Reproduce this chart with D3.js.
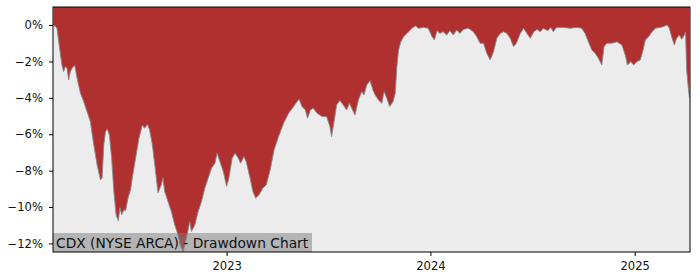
<!DOCTYPE html>
<html>
<head>
<meta charset="utf-8">
<script src="https://cdn.jsdelivr.net/npm/d3@7"></script>
<style>
  body { margin: 0; background: #ffffff; }
  svg { display: block; font-family: "DejaVu Sans", sans-serif; }
</style>
</head>
<body>
<script>
// Drawdown series (percent below running peak)
const dates = [
  "2022-02-25","2022-02-28","2022-03-03","2022-03-07","2022-03-12","2022-03-15","2022-03-18","2022-03-21",
  "2022-03-24","2022-03-27","2022-04-01","2022-04-04","2022-04-08","2022-04-14","2022-04-20","2022-04-26",
  "2022-05-02","2022-05-08","2022-05-14","2022-05-20","2022-05-23","2022-05-26","2022-05-29","2022-06-01",
  "2022-06-05","2022-06-09","2022-06-13","2022-06-17","2022-06-21","2022-06-24","2022-06-27","2022-07-01",
  "2022-07-04","2022-07-09","2022-07-13","2022-07-16","2022-07-22","2022-07-28","2022-08-03","2022-08-07",
  "2022-08-12","2022-08-16","2022-08-21","2022-08-26","2022-08-31","2022-09-06","2022-09-09","2022-09-12",
  "2022-09-18","2022-09-24","2022-09-30","2022-10-06","2022-10-10","2022-10-15","2022-10-21","2022-10-27",
  "2022-10-30","2022-11-05","2022-11-11","2022-11-17","2022-11-23","2022-11-29","2022-12-05","2022-12-11",
  "2022-12-15","2022-12-20","2022-12-26","2023-01-01","2023-01-05","2023-01-11","2023-01-16","2023-01-22",
  "2023-01-26","2023-02-01","2023-02-05","2023-02-12","2023-02-17","2023-02-22","2023-02-28","2023-03-07",
  "2023-03-13","2023-03-20","2023-03-27","2023-04-04","2023-04-13","2023-04-22","2023-05-01","2023-05-07",
  "2023-05-11","2023-05-16","2023-05-22","2023-05-26","2023-05-31","2023-06-05","2023-06-12","2023-06-21",
  "2023-06-29","2023-07-05","2023-07-08","2023-07-13","2023-07-17","2023-07-23","2023-07-29","2023-08-04",
  "2023-08-09","2023-08-13","2023-08-19","2023-08-25","2023-08-31","2023-09-04","2023-09-09","2023-09-15",
  "2023-09-20","2023-09-24","2023-09-30","2023-10-06","2023-10-10","2023-10-15","2023-10-20","2023-10-26",
  "2023-10-30","2023-11-02","2023-11-05","2023-11-09","2023-11-14","2023-11-20","2023-11-29","2023-12-05",
  "2023-12-11","2023-12-20","2023-12-28","2024-01-04","2024-01-08","2024-01-13","2024-01-18","2024-01-24",
  "2024-01-30","2024-02-05","2024-02-11","2024-02-17","2024-02-23","2024-02-29","2024-03-09","2024-03-18",
  "2024-03-24","2024-03-30","2024-04-05","2024-04-11","2024-04-17","2024-04-23","2024-04-29","2024-05-05",
  "2024-05-11","2024-05-17","2024-05-23","2024-05-29","2024-06-03","2024-06-10","2024-06-16","2024-06-22",
  "2024-06-28","2024-07-04","2024-07-10","2024-07-16","2024-07-21","2024-07-29","2024-08-04","2024-08-08",
  "2024-08-14","2024-08-26","2024-09-07","2024-09-19","2024-09-28","2024-10-04","2024-10-10","2024-10-16",
  "2024-10-22","2024-10-28","2024-11-03","2024-11-07","2024-11-12","2024-11-21","2024-11-30","2024-12-09",
  "2024-12-15","2024-12-19","2024-12-25","2024-12-30","2025-01-05","2025-01-11","2025-01-16","2025-01-20",
  "2025-01-26","2025-02-01","2025-02-07","2025-02-16","2025-02-21","2025-02-28","2025-03-04","2025-03-08",
  "2025-03-13","2025-03-17","2025-03-22","2025-03-26","2025-03-31","2025-04-02","2025-04-04","2025-04-07",
  "2025-04-09"
]
const drawdown = [
  0, -0.08, -0.16, -1.10, -2.20, -2.56, -2.29, -2.36,
  -3.02, -2.56, -2.29, -2.23, -2.91, -3.73, -4.21, -4.76,
  -5.31, -6.59, -7.68, -8.51, -8.40, -6.59, -5.86, -5.71,
  -6.04, -7.30, -9.15, -10.43, -10.76, -10.04, -10.43, -10.15,
  -10.21, -9.42, -9.06, -8.40, -7.30, -6.22, -5.49, -5.67,
  -5.45, -5.76, -6.59, -7.86, -9.22, -8.78, -8.41, -9.15,
  -9.70, -10.25, -10.98, -11.53, -12.08, -12.45, -11.69, -10.80,
  -11.34, -10.98, -10.25, -9.70, -8.96, -8.41, -7.86, -7.59,
  -7.04, -7.50, -8.05, -8.87, -8.41, -7.32, -7.04, -7.32,
  -7.59, -7.23, -7.50, -8.41, -9.15, -9.51, -9.33, -8.96,
  -8.78, -7.96, -6.86, -6.13, -5.40, -4.85, -4.48, -4.21,
  -4.08, -4.48, -4.67, -5.12, -4.67, -4.57, -4.85, -5.03,
  -5.03, -5.58, -6.13, -5.21, -4.39, -4.15, -4.39, -4.67,
  -4.30, -4.57, -4.94, -4.12, -3.66, -3.84, -3.29, -3.06,
  -3.57, -3.84, -4.12, -4.30, -3.66, -4.02, -4.48, -4.21,
  -3.75, -2.29, -1.37, -0.92, -0.64, -0.46, -0.18, -0.05,
  -0.18, -0.13, -0.18, -0.64, -0.82, -0.31, -0.46, -0.37,
  -0.55, -0.31, -0.55, -0.27, -0.46, -0.24, -0.18, -0.37,
  -0.64, -1.00, -1.00, -1.55, -1.92, -1.47, -0.73, -0.46,
  -0.37, -0.46, -0.73, -1.19, -1.00, -0.46, -0.18, -0.46,
  -0.73, -0.37, -0.24, -0.37, -0.18, -0.31, -0.13, -0.37,
  -0.13, -0.13, -0.18, -0.13, -0.18, -0.46, -0.92, -1.37,
  -1.55, -1.83, -2.20, -1.19, -1.00, -1.00, -0.92, -1.10,
  -1.65, -2.20, -2.01, -2.20, -2.01, -1.92, -1.37, -0.82,
  -0.64, -0.37, -0.18, -0.13, -0.09, 0, -0.18, -0.64,
  -1.10, -0.73, -0.55, -0.78, -0.55, -0.38, -2.47, -3.46,
  -4.01
]

const yTicks = [0, -2, -4, -6, -8, -10, -12]
const yTickLabels = ["0%", "\u22122%", "\u22124%", "\u22126%", "\u22128%", "\u221210%", "\u221212%"]
const xTicks = ["2023-01-01", "2024-01-01", "2025-01-01"]
const xTickLabels = ["2023", "2024", "2025"]
const chartTitle = "CDX (NYSE ARCA) - Drawdown Chart"

const width = 700
const height = 280
const margin = { top: 7, right: 10, bottom: 28, left: 53 }

const parse = d3.utcParse("%Y-%m-%d")
const series = dates.map((d, i) => ({ date: parse(d), value: drawdown[i] }))

const svg = d3.select("body")
  .append("svg")
  .attr("width", width)
  .attr("height", height)

const x = d3.scaleUtc()
  .domain([parse("2022-02-24"), parse("2025-04-10")])
  .range([margin.left, width - margin.right])

const y = d3.scaleLinear()
  .domain([-12.47, 0.99])
  .range([height - margin.bottom, margin.top])

// plot background
svg.append("rect")
  .attr("x", margin.left)
  .attr("y", margin.top)
  .attr("width", width - margin.left - margin.right)
  .attr("height", height - margin.top - margin.bottom)
  .style("fill", "#ececec")

// red area between top of the plot and the drawdown curve
const area = d3.area()
  .x(d => x(d.date))
  .y0(margin.top)
  .y1(d => y(d.value))

svg.append("path")
  .datum(series)
  .attr("d", area)
  .style("fill", "#b03030")

const line = d3.line()
  .x(d => x(d.date))
  .y(d => y(d.value))

svg.append("path")
  .datum(series)
  .attr("d", line)
  .style("fill", "none")
  .style("stroke", "#8a8a8a")
  .style("stroke-width", 0.9)

// title box
const titleG = svg.append("g")
titleG.append("rect")
  .attr("x", margin.left)
  .attr("y", 233)
  .attr("width", 259)
  .attr("height", height - margin.bottom - 233)
  .style("fill", "#7c7c7c")
  .style("fill-opacity", 0.5)
titleG.append("text")
  .attr("x", margin.left + 3)
  .attr("y", 247.5)
  .style("font-size", "13.8px")
  .style("fill", "#111")
  .text(chartTitle)

// axes
const yAxis = d3.axisLeft(y)
  .tickValues(yTicks)
  .tickFormat((d, i) => yTickLabels[i])
  .tickSize(4)
  .tickPadding(6)

const xAxis = d3.axisBottom(x)
  .tickValues(xTicks.map(parse))
  .tickFormat((d, i) => xTickLabels[i])
  .tickSize(4)
  .tickPadding(5.5)

const gy = svg.append("g")
  .attr("transform", `translate(${margin.left},0)`)
  .call(yAxis)
const gx = svg.append("g")
  .attr("transform", `translate(0,${height - margin.bottom})`)
  .call(xAxis)

for (const g of [gx, gy]) {
  g.select(".domain").remove()
  g.selectAll("text")
    .style("font-family", "DejaVu Sans, sans-serif")
    .style("font-size", "11.6px")
    .style("fill", "#111")
  g.selectAll("line").style("stroke", "#000")
}

// frame
svg.append("rect")
  .attr("x", margin.left)
  .attr("y", margin.top)
  .attr("width", width - margin.left - margin.right)
  .attr("height", height - margin.top - margin.bottom)
  .style("fill", "none")
  .style("stroke", "#000")
  .style("stroke-width", 1)
</script>
</body>
</html>
